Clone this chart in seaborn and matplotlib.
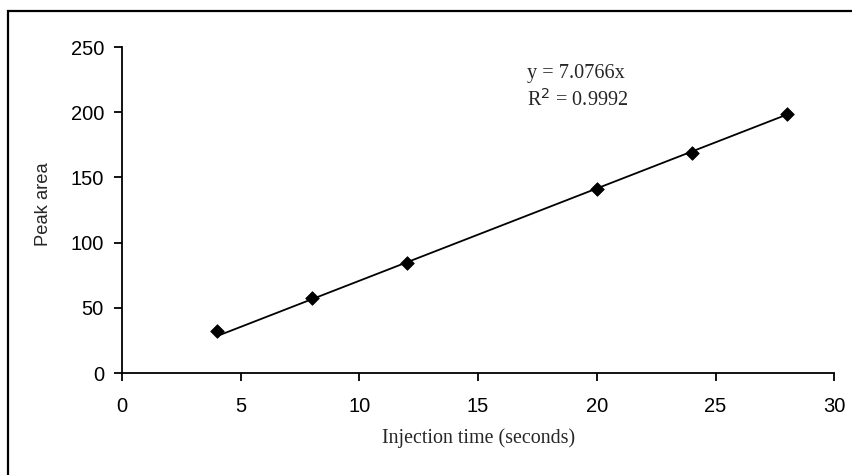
import numpy as np
import pandas as pd
import matplotlib
matplotlib.use("Agg")
import matplotlib.pyplot as plt
from matplotlib.patches import Rectangle
import seaborn as sns

# ==========================================
# DATA
# ==========================================
injection_time = [4, 8, 12, 20, 24, 28]
peak_area = [32.4, 57.2, 84.3, 141.5, 169.0, 198.5]
slope = 7.0766
r_squared = 0.9992
x_ticks = [0, 5, 10, 15, 20, 25, 30]
y_ticks = [0, 50, 100, 150, 200, 250]

df = pd.DataFrame({"time": injection_time, "area": peak_area})
fit = pd.DataFrame({"time": [min(injection_time), max(injection_time)]})
fit["area"] = slope * fit["time"]

# ==========================================
# PLOT
# ==========================================
sns.set_theme(style="ticks")
plt.rcParams["font.family"] = ["Liberation Sans", "DejaVu Sans"]
SERIF = ["Liberation Serif", "DejaVu Serif"]

fig = plt.figure(figsize=(8.53, 4.75), dpi=100)
ax = fig.add_axes([0.143, 0.2147, 0.835, 0.6863])

sns.lineplot(data=fit, x="time", y="area", color="black", lw=1.3, ax=ax)
sns.scatterplot(data=df, x="time", y="area", marker="D", s=48,
                color="black", edgecolor="black", zorder=3, ax=ax)

ax.set_xlim(0, 30)
ax.set_ylim(0, 250)
ax.set_xticks(x_ticks)
ax.set_yticks(y_ticks)
ax.tick_params(axis="both", direction="out", length=6, width=1.3,
               colors="black", labelsize=14.5)
ax.tick_params(axis="x", pad=11)
ax.tick_params(axis="y", pad=7)
for side in ["top", "right"]:
    ax.spines[side].set_visible(False)
for side in ["left", "bottom"]:
    ax.spines[side].set_linewidth(1.3)
    ax.spines[side].set_color("black")

ax.set_xlabel("Injection time (seconds)", family=SERIF, fontsize=14.4, labelpad=9)
ax.set_ylabel("Peak area", fontsize=13.2)
ax.yaxis.set_label_coords(-0.098, 0.518)

ax.text(0.568, 0.92, f"y = {slope}x", transform=ax.transAxes,
        family=SERIF, fontsize=14.6, va="center")
ax.text(0.568, 0.837, f"R$^2$ = {r_squared}", transform=ax.transAxes,
        family=SERIF, fontsize=14.6, va="center")

# chart border (only top/left edges fall inside the picture)
fig.patches.append(Rectangle((8 / 853, -0.2), 1.5, 1.2 - 10.5 / 475,
                             transform=fig.transFigure, fill=False,
                             edgecolor="black", lw=1.6))

fig.savefig("out.png", dpi=100)
